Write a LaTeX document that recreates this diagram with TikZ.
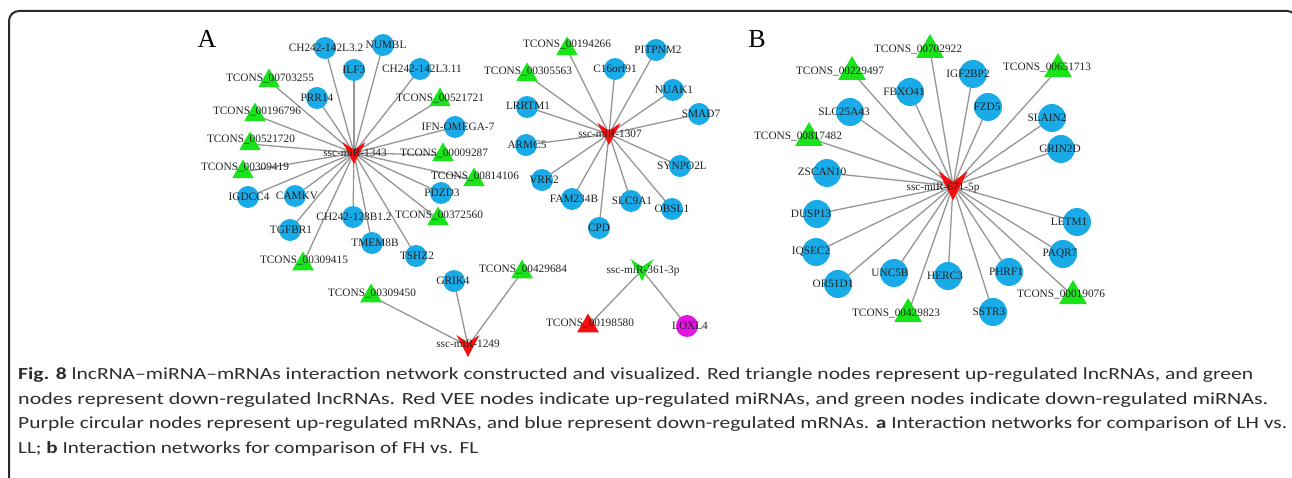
\documentclass[tikz,border=0pt]{standalone}
\usepackage{fontspec}
\usepackage{graphicx}
\usetikzlibrary{shapes.geometric,calc}
\newfontfamily\serifnet{Liberation Serif}
\newfontfamily\capfont{Carlito}
\definecolor{nblue}{RGB}{25,170,232}
\definecolor{ngreen}{RGB}{25,228,25}
\definecolor{nred}{RGB}{245,15,15}
\definecolor{nmag}{RGB}{228,20,228}
\definecolor{edgec}{RGB}{150,150,150}
\definecolor{lblc}{RGB}{35,35,35}
\definecolor{capc}{RGB}{45,45,45}
\definecolor{framec}{RGB}{40,40,40}
\pgfdeclarelayer{background}
\pgfdeclarelayer{foreground}
\pgfsetlayers{background,main,foreground}
\tikzset{
  circA/.style={circle, fill=#1, minimum size=22, inner sep=0},
  circA/.default=nblue,
  circB/.style={circle, fill=nblue, minimum size=28, inner sep=0},
  triA/.style={regular polygon, regular polygon sides=3, fill=#1, minimum size=25, inner sep=0},
  triA/.default=ngreen,
  triB/.style={regular polygon, regular polygon sides=3, fill=ngreen, minimum size=32, inner sep=0},
  veeshape/.style={rectangle, inner sep=0, path picture={\fill[#1] (path picture bounding box.north west) -- ($(path picture bounding box.north)!0.35!(path picture bounding box.south)$) -- (path picture bounding box.north east) -- (path picture bounding box.south) -- cycle;}},
  veeA/.style={veeshape=#1, minimum width=23, minimum height=22},
  veeB/.style={veeshape=#1, minimum width=29, minimum height=29},
  lbl/.style={text=lblc, font=\serifnet\fontsize{11.3}{13}\selectfont, inner sep=0},
  panel/.style={text=black, font=\serifnet\fontsize{26}{28}\selectfont, inner sep=0},
  edge/.style={draw=edgec, line width=1.3},
  captionline/.style={text=capc, font=\capfont\fontsize{17}{20}\selectfont, inner sep=0, anchor=base west},
}
\newcommand\gnode[7]{\node[#1] (#2) at (#3,#4) {};\begin{pgfonlayer}{foreground}\node[lbl] (#2l) at (#5,#6) {#7};\end{pgfonlayer}}
\begin{document}
\begin{tikzpicture}[x=1pt,y=-1pt]
\useasboundingbox (0,0) rectangle (1292,478);
\clip (0,0) rectangle (1292,478);
\begin{pgfonlayer}{background}
\fill[white] (0,0) rectangle (1292,478);
\end{pgfonlayer}
\draw[framec, line width=2, rounded corners=10] (9,495) -- (9,11) -- (1297,11) -- (1297,495);
\node[panel] (pA) at (207,39) {A};
\node[panel] (pB) at (757,39) {B};
% ---- cluster ssc-miR-1343
\gnode{veeA=nred}{mA}{354}{153}{355}{153}{ssc-miR-1343}
\gnode{circA}{a1}{325}{48}{326}{48}{CH242-142L3.2}
\gnode{circA}{a2}{383}{45}{386}{45}{NUMBL}
\gnode{circA}{a3}{354}{70}{354}{70}{ILF3}
\gnode{circA}{a4}{420}{69}{422}{69}{CH242-142L3.11}
\gnode{triA}{a5}{269}{81}{270}{78}{TCONS\_00703255}
\gnode{circA}{a6}{317}{98}{317}{98}{PRR14}
\gnode{triA}{a7}{440}{100}{440}{98}{TCONS\_00521721}
\gnode{triA}{a8}{255}{115}{257}{111}{TCONS\_00196796}
\gnode{circA}{a9}{455}{127}{458}{127}{IFN-OMEGA-7}
\gnode{triA}{a10}{250}{144}{251}{139}{TCONS\_00521720}
\gnode{triA}{a11}{443}{155}{444}{153}{TCONS\_00009287}
\gnode{triA}{a12}{243}{172}{245}{167}{TCONS\_00309419}
\gnode{triA}{a13}{474}{180}{475}{176}{TCONS\_00814106}
\gnode{circA}{a14}{248}{197}{249}{197}{IGDCC4}
\gnode{circA}{a15}{295}{196}{297}{196}{CAMKV}
\gnode{circA}{a16}{441}{193}{442}{193}{PDZD3}
\gnode{circA}{a17}{353}{217}{354}{217}{CH242-128B1.2}
\gnode{triA}{a18}{438}{219}{439}{215}{TCONS\_00372560}
\gnode{circA}{a19}{290}{230}{291}{230}{TGFBR1}
\gnode{circA}{a20}{372}{243}{375}{243}{TMEM8B}
\gnode{circA}{a21}{416}{256}{417}{256}{TSHZ2}
\gnode{triA}{a22}{303}{264}{304}{260}{TCONS\_00309415}
% ---- cluster ssc-miR-1249
\gnode{veeA=nred}{mC}{468}{346}{468}{344}{ssc-miR-1249}
\gnode{circA}{c1}{454}{281}{453}{281}{GRIK4}
\gnode{triA}{c2}{371}{296}{372}{293}{TCONS\_00309450}
\gnode{triA}{c3}{522}{272}{523}{269}{TCONS\_00429684}
% ---- cluster ssc-miR-1307
\gnode{veeA=nred}{mB}{609}{134}{610}{134}{ssc-miR-1307}
\gnode{triA}{b1}{567}{49}{567}{44}{TCONS\_00194266}
\gnode{circA}{b2}{656}{50}{658}{50}{PITPNM2}
\gnode{triA}{b3}{527}{75}{528}{71}{TCONS\_00305563}
\gnode{circA}{b4}{615}{69}{615}{69}{C16orf91}
\gnode{circA}{b5}{673}{90}{674}{90}{NUAK1}
\gnode{circA}{b6}{527}{107}{528}{106}{LRRTM1}
\gnode{circA}{b7}{699}{114}{701}{114}{SMAD7}
\gnode{circA}{b8}{526}{145}{527}{145}{ARMC5}
\gnode{circA}{b9}{680}{166}{682}{166}{SYNPO2L}
\gnode{circA}{b10}{542}{180}{544}{180}{VRK2}
\gnode{circA}{b11}{572}{199}{574}{199}{FAM234B}
\gnode{circA}{b12}{631}{201}{632}{201}{SLC9A1}
\gnode{circA}{b13}{672}{209}{672}{209}{OBSL1}
\gnode{circA}{b14}{599}{228}{599}{228}{CPD}
% ---- cluster ssc-miR-361-3p
\gnode{veeA=ngreen}{mD}{642}{270}{643}{271}{ssc-miR-361-3p}
\gnode{triA=nred}{d1}{588}{326}{590}{323}{TCONS\_00198580}
\gnode{circA=nmag}{d2}{687}{326}{690}{326}{LOXL4}
% ---- panel B: ssc-miR-671-5p
\gnode{veeB=nred}{mE}{953}{186}{943}{188}{ssc-miR-671-5p}
\gnode{triB}{e1}{930}{50}{918}{49}{TCONS\_00702922}
\gnode{triB}{e2}{852}{72}{840}{71}{TCONS\_00229497}
\gnode{triB}{e3}{1058}{69}{1047}{67}{TCONS\_00651713}
\gnode{circB}{e4}{973}{74}{968}{74}{IGF2BP2}
\gnode{circB}{e5}{910}{92}{904}{92}{FBXO41}
\gnode{circB}{e6}{988}{107}{987}{107}{FZD5}
\gnode{circB}{e7}{850}{112}{844}{112}{SLC25A43}
\gnode{circB}{e8}{1052}{118}{1047}{118}{SLAIN2}
\gnode{triB}{e9}{809}{138}{798}{136}{TCONS\_00817482}
\gnode{circB}{e10}{1061}{149}{1060}{149}{GRIN2D}
\gnode{circB}{e11}{827}{173}{822}{172}{ZSCAN10}
\gnode{circB}{e12}{817}{214}{811}{214}{DUSP13}
\gnode{circB}{e13}{1077}{222}{1069}{222}{LETM1}
\gnode{circB}{e14}{816}{252}{811}{252}{IQSEC2}
\gnode{circB}{e15}{1063}{254}{1060}{254}{PAQR7}
\gnode{circB}{e16}{894}{273}{890}{273}{UNC5B}
\gnode{circB}{e17}{948}{276}{945}{276}{HERC3}
\gnode{circB}{e18}{1009}{272}{1006}{272}{PHRF1}
\gnode{circB}{e19}{838}{284}{833}{284}{OR51D1}
\gnode{triB}{e20}{1073}{296}{1061}{294}{TCONS\_00019076}
\gnode{circB}{e21}{993}{312}{989}{312}{SSTR3}
\gnode{triB}{e22}{908}{314}{896}{313}{TCONS\_00429823}
% ---- edges
\begin{pgfonlayer}{background}
\foreach \n in {a1,a2,a3,a4,a5,a6,a7,a8,a9,a10,a11,a12,a13,a14,a15,a16,a17,a18,a19,a20,a21,a22}
  \draw[edge] (mA.center) -- (\n.center);
\foreach \n in {c1,c2,c3}
  \draw[edge] (mC.center) -- (\n.center);
\foreach \n in {b1,b2,b3,b4,b5,b6,b7,b8,b9,b10,b11,b12,b13,b14}
  \draw[edge] (mB.center) -- (\n.center);
\foreach \n in {d1,d2}
  \draw[edge] (mD.center) -- (\n.center);
\foreach \n in {e1,e2,e3,e4,e5,e6,e7,e8,e9,e10,e11,e12,e13,e14,e15,e16,e17,e18,e19,e20,e21,e22}
  \draw[edge] (mE.center) -- (\n.center);
\end{pgfonlayer}
% ---- caption
\node[captionline] (cap1) at (18,379) {\resizebox{1235pt}{\height}{\textbf{Fig. 8} lncRNA–miRNA–mRNAs interaction network constructed and visualized. Red triangle nodes represent up-regulated lncRNAs, and green}};
\node[captionline] (cap2) at (18,404) {\resizebox{1250pt}{\height}{nodes represent down-regulated lncRNAs. Red VEE nodes indicate up-regulated miRNAs, and green nodes indicate down-regulated miRNAs.}};
\node[captionline] (cap3) at (18,428) {\resizebox{1269pt}{\height}{Purple circular nodes represent up-regulated mRNAs, and blue represent down-regulated mRNAs. \textbf{a} Interaction networks for comparison of LH vs.}};
\node[captionline] (cap4) at (18,453) {\resizebox{460pt}{\height}{LL; \textbf{b} Interaction networks for comparison of FH vs. FL}};
\end{tikzpicture}
\end{document}
